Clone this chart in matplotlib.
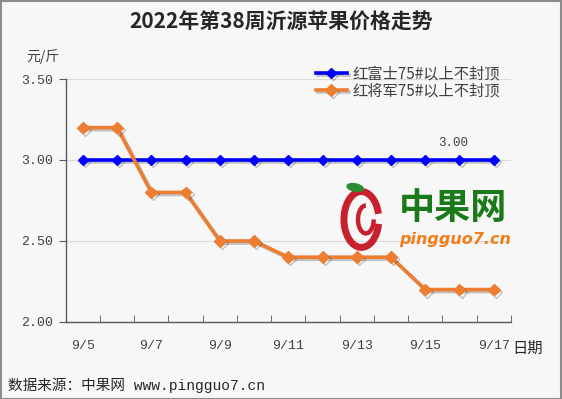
import matplotlib
matplotlib.use("Agg")
import matplotlib.pyplot as plt
import matplotlib.patheffects as pe
from matplotlib.patches import Arc, Ellipse, Rectangle
import numpy as np

plt.rcParams["font.family"] = ["Noto Sans CJK SC", "DejaVu Sans"]

dates = ["9/5", "9/6", "9/7", "9/8", "9/9", "9/10", "9/11",
         "9/12", "9/13", "9/14", "9/15", "9/16", "9/17"]
fuji = [3.00, 3.00, 3.00, 3.00, 3.00, 3.00, 3.00,
        3.00, 3.00, 3.00, 3.00, 3.00, 3.00]
jiangjun = [3.20, 3.20, 2.80, 2.80, 2.50, 2.50, 2.40,
            2.40, 2.40, 2.40, 2.20, 2.20, 2.20]
series_names = ["红富士75#以上不封顶", "红将军75#以上不封顶"]
yticks = [2.00, 2.50, 3.00, 3.50]

BG = "#f7f7f7"
TXT = "#404040"
MONO = ["Liberation Mono", "Noto Sans CJK SC"]

fig = plt.figure(figsize=(5.62, 3.99), dpi=100, facecolor=BG)
fig.patches.append(Rectangle((0.001, 0.001), 0.997, 0.996, transform=fig.transFigure,
                             fill=False, edgecolor="#8c8c8c", lw=1.5))
ax = fig.add_axes([0.117, 0.193, 0.792, 0.609], facecolor=BG)

x = np.arange(len(dates))
shadow = [pe.SimpleLineShadow(offset=(1.5, -1.5), alpha=0.25, shadow_color="#222222"), pe.Normal()]
ax.plot(x, fuji, color="#0000ff", lw=2.6, marker="D", ms=5, label=series_names[0],
        path_effects=shadow, zorder=4)
ax.plot(x, jiangjun, color="#ed7d31", lw=2.6, marker="D", ms=6, label=series_names[1],
        path_effects=shadow, zorder=5)

ax.text(x[11] - 0.18, fuji[11] + 0.07, f"{fuji[11]:.2f}", ha="center", va="bottom",
        fontsize=9, color=TXT, family=MONO)

ax.set_xlim(-0.5, len(dates) - 0.5)
ax.set_ylim(2.0, 3.5)
ax.set_yticks(yticks)
ax.set_yticklabels([f"{v:.2f}" for v in yticks], family=MONO, fontsize=9.5, color=TXT)
ax.set_xticks(x[::2])
ax.set_xticklabels(dates[::2], family=MONO, fontsize=9.5, color=TXT)
ax.set_xticks(np.arange(-0.5, len(dates), 1.0), minor=True)
ax.tick_params(axis="x", which="major", length=0, pad=13)
ax.tick_params(axis="x", which="minor", direction="in", length=5, color="#595959")
ax.tick_params(axis="y", length=5, color="#595959", pad=4)
ax.grid(axis="y", color="#d9d9d9", lw=0.9)
ax.set_axisbelow(True)
for s in ["top", "right"]:
    ax.spines[s].set_visible(False)
for s in ["left", "bottom"]:
    ax.spines[s].set_color("#595959")
    ax.spines[s].set_linewidth(1.0)

leg = ax.legend(loc="upper right", bbox_to_anchor=(1.0, 1.1), frameon=False, fontsize=11,
                handlelength=2.0, labelspacing=0.0, borderpad=0.2, handletextpad=0.4)
for t in leg.get_texts():
    t.set_color(TXT)

fig.text(0.5, 0.945, "2022年第38周沂源苹果价格走势", ha="center", va="center",
         fontsize=15, fontweight="bold", color="#262626")
fig.text(0.077, 0.858, "元/斤", ha="center", va="center", fontsize=10, color=TXT)
fig.text(0.938, 0.128, "日期", ha="center", va="center", fontsize=11, color="#262626")
fig.text(0.014, 0.035, "数据来源：中果网 www.pingguo7.cn", ha="left", va="center",
         fontsize=10.5, color="#262626", family=MONO)

# watermark logo
fig.patches.append(Arc((0.643, 0.45), 0.062, 0.14, theta1=25, theta2=340, lw=5,
                       color="#c8202f", transform=fig.transFigure))
fig.patches.append(Arc((0.651, 0.45), 0.028, 0.07, theta1=90, theta2=360, lw=3.2,
                       color="#c8202f", transform=fig.transFigure))
fig.patches.append(Ellipse((0.632, 0.53), 0.03, 0.018, angle=-20, color="#2e8b2e",
                           transform=fig.transFigure))
fig.text(0.709, 0.478, "中果网", ha="left", va="center", fontsize=26, fontweight="bold",
         color="#1a7a1a")
fig.text(0.711, 0.4, "pingguo7.cn", ha="left", va="center", fontsize=11.5,
         fontweight="bold", style="italic", color="#f07f1a", family="DejaVu Sans")

fig.savefig("out.png", dpi=100, facecolor=BG)
